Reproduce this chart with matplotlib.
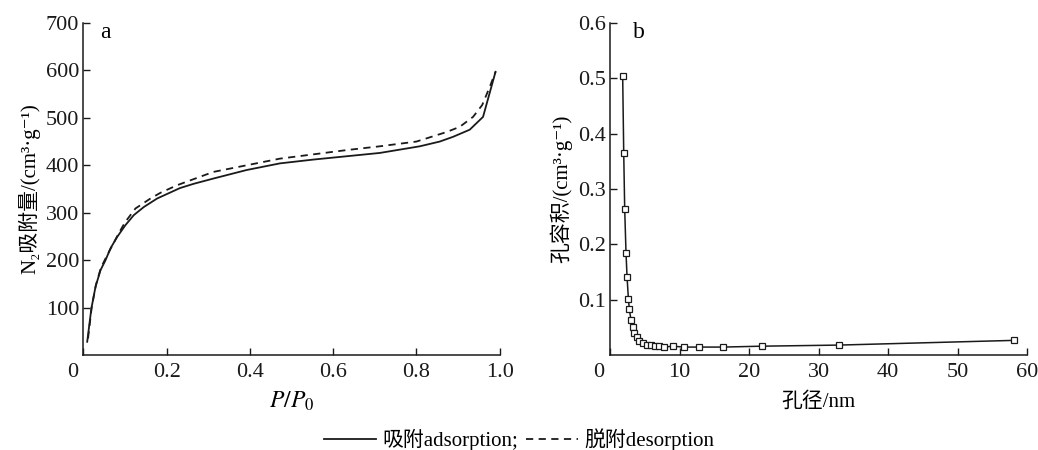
import matplotlib
matplotlib.use("Agg")
import matplotlib.pyplot as plt
import matplotlib.transforms as mtransforms
from matplotlib.lines import Line2D

plt.rcParams['font.family'] = ['Liberation Serif', 'Noto Sans CJK SC', 'DejaVu Sans']
plt.rcParams['mathtext.fontset'] = 'stix'
plt.rcParams['font.size'] = 16

# panel a: N2 isotherm
p_ads = [0.009, 0.019, 0.029, 0.041, 0.053, 0.065, 0.081, 0.101, 0.121, 0.145, 0.177,
         0.217, 0.232, 0.265, 0.312, 0.392, 0.472, 0.552, 0.632, 0.712, 0.808, 0.856,
         0.888, 0.928, 0.96, 0.99]
v_ads = [28, 98, 144, 179, 200, 225, 249, 274, 295, 312, 330,
         346, 352, 361, 372, 390, 404, 412, 419, 426, 440, 450,
         460, 475, 502, 597]

p_des = [0.011, 0.02, 0.03, 0.042, 0.055, 0.07, 0.085, 0.1, 0.125, 0.161, 0.185, 0.225,
         0.312, 0.392, 0.472, 0.552, 0.632, 0.712, 0.8, 0.872, 0.904, 0.936, 0.958,
         0.976, 0.99]
v_des = [35, 102, 148, 184, 207, 232, 257, 280, 309, 330, 342, 358,
         386, 400, 414, 423, 432, 440, 450, 470, 481, 502, 527,
         565, 597]

# panel b: pore size distribution
pore_d = [1.82, 1.97, 2.11, 2.30, 2.45, 2.64, 2.78, 3.02, 3.26, 3.5, 3.84, 4.22, 4.7,
          5.28, 5.86, 6.48, 7.1, 7.82, 9.0, 10.66, 12.86, 16.2, 21.8, 32.9, 58.1]
pore_v = [0.504, 0.365, 0.264, 0.184, 0.141, 0.102, 0.0825, 0.063, 0.051, 0.040, 0.033,
          0.026, 0.022, 0.019, 0.0175, 0.016, 0.016, 0.0144, 0.016, 0.0144, 0.0144,
          0.0144, 0.016, 0.018, 0.0265]

a_xticks = [0, 0.2, 0.4, 0.6, 0.8, 1.0]
a_xlabels = ['0', '0.2', '0.4', '0.6', '0.8', '1.0']
a_yticks = [100, 200, 300, 400, 500, 600, 700]
b_xticks = [0, 10, 20, 30, 40, 50, 60]
b_yticks = [0.1, 0.2, 0.3, 0.4, 0.5, 0.6]

fig = plt.figure(figsize=(10.38, 4.5), dpi=100)
ax1 = fig.add_axes([0.0804, 0.211, 0.401, 0.738])
ax2 = fig.add_axes([0.5877, 0.211, 0.4017, 0.738])

ink = '#1a1a1a'


def style(ax):
    for s in ['top', 'right']:
        ax.spines[s].set_visible(False)
    for s in ['left', 'bottom']:
        ax.spines[s].set_linewidth(1.1)
        ax.spines[s].set_color(ink)
    ax.tick_params(direction='in', length=5, width=1.0, colors=ink, labelsize=16)
    ax.tick_params(axis='x', pad=6)
    ax.tick_params(axis='y', pad=3)


ax1.plot(p_ads, v_ads, color=ink, lw=1.3)
ax1.plot(p_des, v_des, color=ink, lw=1.3, dashes=(4, 3))
ax1.set_xlim(0, 1.0)
ax1.set_ylim(0, 700)
ax1.set_xticks(a_xticks)
ax1.set_xticklabels(a_xlabels)
ax1.set_yticks(a_yticks)
style(ax1)
ax1.set_xlabel('$P/P_{\\mathrm{0}}$', fontsize=17, labelpad=5)
ax1.set_ylabel('N₂吸附量/(cm³·g⁻¹)', fontsize=15, labelpad=4)
ax1.text(0.04, 0.97, 'a', transform=ax1.transAxes, fontsize=17, va='center', ha='left')

ax2.plot(pore_d, pore_v, color=ink, lw=1.1, marker='s', ms=5, mfc='white', mec=ink, mew=0.9)
ax2.set_xlim(0, 60)
ax2.set_ylim(0, 0.6)
ax2.set_xticks(b_xticks)
ax2.set_yticks(b_yticks)
style(ax2)
ax2.set_xlabel('孔径/nm', fontsize=15, labelpad=7)
ax2.set_ylabel('孔容积/(cm³·g⁻¹)', fontsize=15, labelpad=4)
ax2.text(0.055, 0.97, 'b', transform=ax2.transAxes, fontsize=17, va='center', ha='left')

# shift the origin "0" labels a bit left, as in the original
shift = mtransforms.ScaledTranslation(-11 / 100, 0, fig.dpi_scale_trans)
for ax in (ax1, ax2):
    lab = ax.get_xticklabels()[0]
    lab.set_transform(lab.get_transform() + shift)

handles = [Line2D([], [], color=ink, lw=1.3),
           Line2D([], [], color=ink, lw=1.3, dashes=(4, 3))]
fig.legend(handles, ['吸附adsorption;', '脱附desorption'], loc='center',
           bbox_to_anchor=(0.5, 0.022), ncol=2, frameon=False, fontsize=15,
           handlelength=2.5, handletextpad=0.3, columnspacing=0.4)

fig.savefig('out.png', dpi=100)
